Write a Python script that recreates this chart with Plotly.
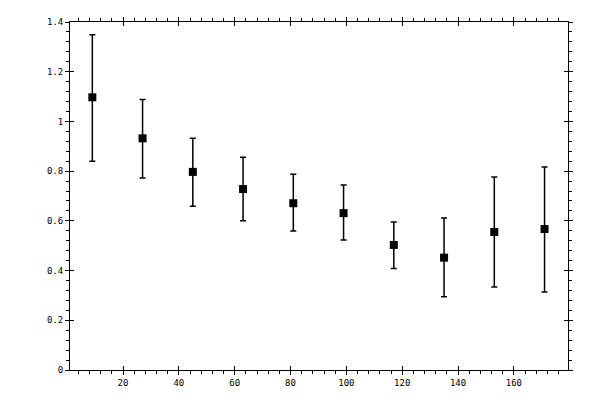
import plotly.graph_objects as go

# angle bins and measured mean with asymmetric error limits
x_vals = [9, 27, 45, 63, 81, 99, 117, 135, 153, 171]
y_vals = [1.097, 0.932, 0.797, 0.728, 0.671, 0.631, 0.503, 0.452, 0.555, 0.567]
y_upper = [1.349, 1.088, 0.932, 0.856, 0.788, 0.744, 0.595, 0.611, 0.776, 0.817]
y_lower = [0.840, 0.772, 0.659, 0.600, 0.559, 0.523, 0.408, 0.295, 0.334, 0.314]

err_plus = [u - y for u, y in zip(y_upper, y_vals)]
err_minus = [y - l for y, l in zip(y_vals, y_lower)]

fig = go.Figure()
fig.add_trace(go.Scatter(
    x=x_vals, y=y_vals, mode="markers",
    marker=dict(symbol="square", size=8, color="black"),
    error_y=dict(type="data", symmetric=False, array=err_plus, arrayminus=err_minus,
                 color="black", thickness=1.5, width=3),
    showlegend=False,
))
# invisible trace on overlay axes so the inward half of major ticks shows
fig.add_trace(go.Scatter(x=[x_vals[0]], y=[y_vals[0]], xaxis="x2", yaxis="y2",
                         mode="markers", marker=dict(opacity=0), showlegend=False,
                         hoverinfo="skip"))

XR = [1, 179.4]
YR = [0, 1.4]
tick_font = dict(family="DejaVu Sans Mono", size=9, color="black")

fig.update_layout(
    width=600, height=400,
    # page body adds an offset, so margins are shifted to compensate
    margin=dict(l=62, r=40, t=9, b=38),
    paper_bgcolor="white", plot_bgcolor="white",
    font=tick_font,
    xaxis=dict(range=XR, dtick=20, tick0=0, ticks="outside", ticklen=4, tickwidth=1,
               tickcolor="black", showline=True, linecolor="black", linewidth=1,
               mirror="allticks", showgrid=False, zeroline=False, tickfont=tick_font,
               ticklabelstandoff=0,
               minor=dict(dtick=4, tick0=0, ticks="outside", ticklen=3, tickwidth=1,
                          tickcolor="black", showgrid=False)),
    yaxis=dict(range=YR, dtick=0.2, tick0=0, ticks="outside", ticklen=4, tickwidth=1,
               tickcolor="black", showline=True, linecolor="black", linewidth=1,
               mirror="allticks", showgrid=False, zeroline=False, tickfont=tick_font,
               minor=dict(dtick=0.04, tick0=0, ticks="outside", ticklen=3, tickwidth=1,
                          tickcolor="black", showgrid=False)),
    xaxis2=dict(range=XR, dtick=20, tick0=0, ticks="inside", ticklen=4, tickwidth=1,
                tickcolor="black", mirror="allticks", showline=False, showgrid=False,
                zeroline=False, showticklabels=False, overlaying="x", anchor="y2"),
    yaxis2=dict(range=YR, dtick=0.2, tick0=0, ticks="inside", ticklen=4, tickwidth=1,
                tickcolor="black", mirror="allticks", showline=False, showgrid=False,
                zeroline=False, showticklabels=False, overlaying="y", anchor="x2"),
)

fig.write_html("out.html")
